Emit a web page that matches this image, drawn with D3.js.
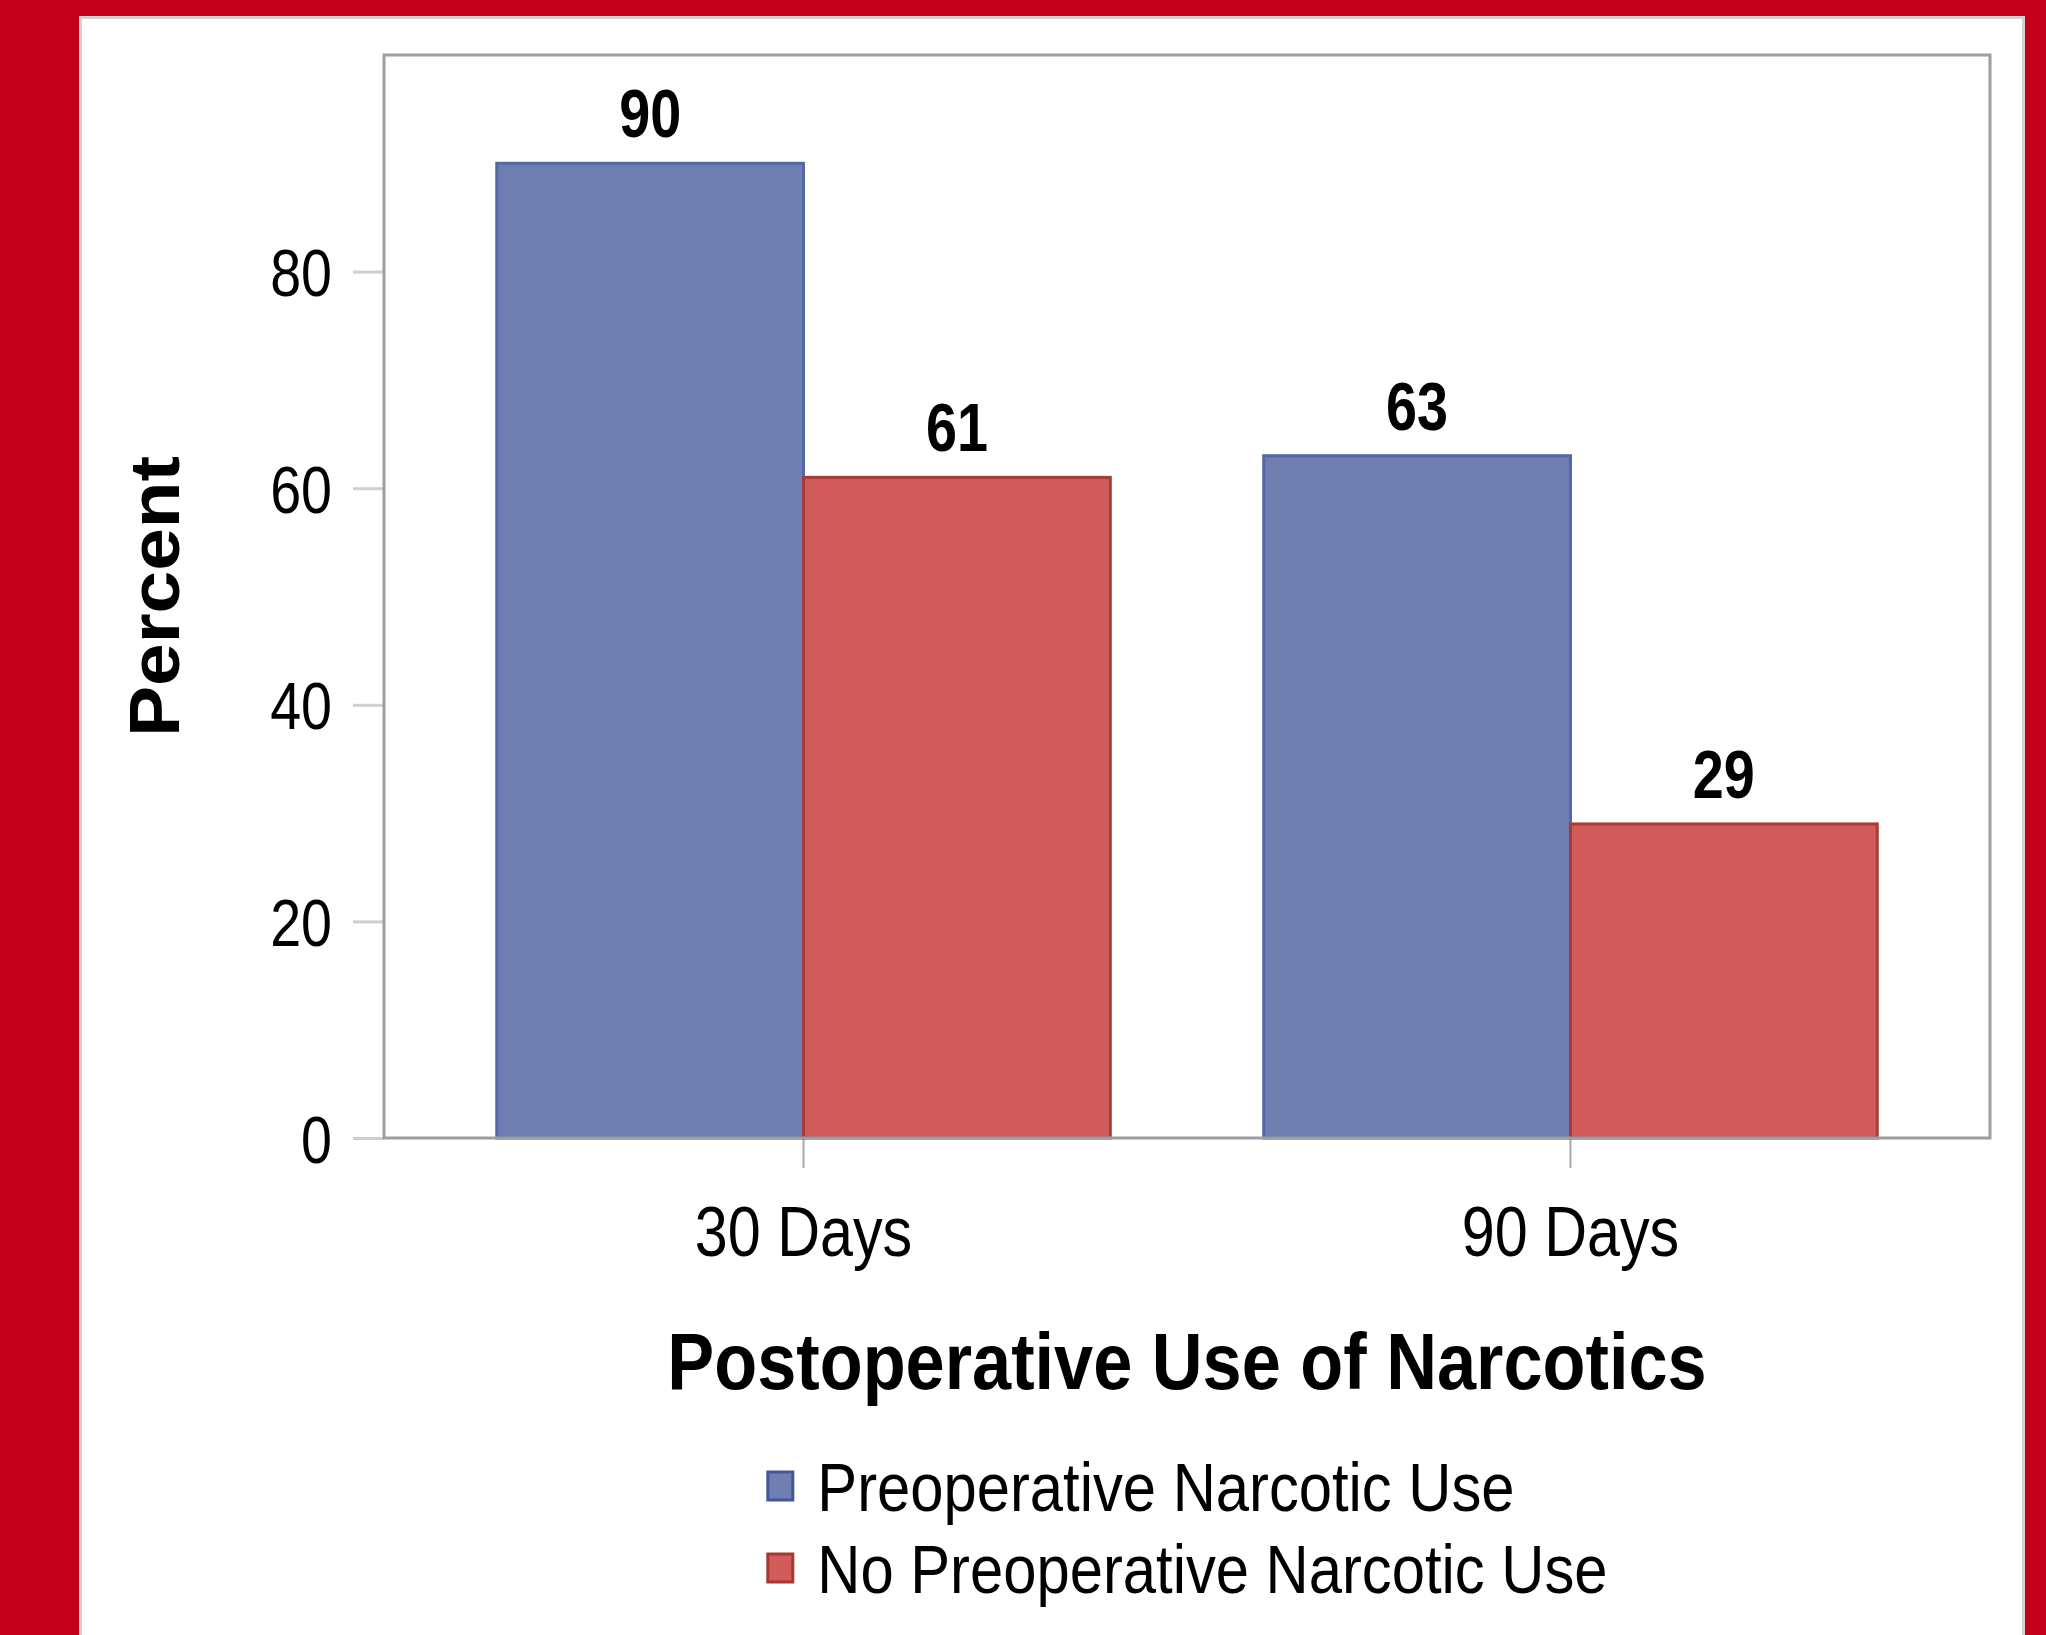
<!DOCTYPE html>
<html>
<head>
<meta charset="utf-8">
<script src="https://cdn.jsdelivr.net/npm/d3@7"></script>
<style>
  html, body { margin: 0; padding: 0; background: #ffffff; }
  svg { display: block; }
  text { font-family: "Liberation Sans", Arial, Helvetica, sans-serif; fill: #000; }
</style>
</head>
<body>
<svg id="chart" width="2046" height="1635"></svg>
<script>
// Chart data
const categories = ["30 Days", "90 Days"];
const groups = ["Preoperative Narcotic Use", "No Preoperative Narcotic Use"];
const preopValues = [90, 63];
const noPreopValues = [61, 29];
const yTicks = [0, 20, 40, 60, 80];
const yMax = 100;

const xTitle = "Postoperative Use of Narcotics";
const yTitle = "Percent";

const fills = ["#6f7fb1", "#d15b5b"];
const strokes = ["#5467a6", "#a83c35"];
const legendStrokes = ["#44579a", "#a3392f"];

const W = 2046, H = 1635;
const plot = { left: 384, top: 55, right: 1990, bottom: 1138 };

const svg = d3.select("#chart");

// Poster-style frame: red edge, thin grey rule, white panel
svg.append("rect").attr("x", 0).attr("y", 0).attr("width", W).attr("height", H).attr("fill", "#c2001b");
svg.append("rect").attr("x", 79).attr("y", 16).attr("width", 2025 - 79).attr("height", H - 16).attr("fill", "#d2d2d2");
svg.append("rect").attr("x", 82).attr("y", 19).attr("width", 2022 - 82).attr("height", H - 19).attr("fill", "#ffffff");

// Scales
const x0 = d3.scaleBand()
  .domain(categories)
  .range([plot.left, plot.right])
  .paddingInner(0.2)
  .paddingOuter(0.147);

const x1 = d3.scaleBand()
  .domain(groups)
  .range([0, x0.bandwidth()])
  .padding(0);

const y = d3.scaleLinear()
  .domain([0, yMax])
  .range([plot.bottom, plot.top]);

// Rows of the table drawn as bars
const rows = categories.map((c, i) => ({
  category: c,
  values: [
    { group: groups[0], value: preopValues[i], gi: 0 },
    { group: groups[1], value: noPreopValues[i], gi: 1 }
  ]
}));

// Y axis
const yAxis = d3.axisLeft(y).tickValues(yTicks).tickSize(31).tickPadding(21);
const gy = svg.append("g").attr("transform", `translate(${plot.left},0)`).call(yAxis);
gy.select(".domain").remove();
gy.selectAll(".tick line").attr("stroke", "#cdd0d2").attr("stroke-width", 3);
gy.selectAll(".tick text")
  .attr("x", null).attr("dy", null)
  .attr("text-anchor", "end")
  .attr("font-size", 67)
  .attr("fill", "#000")
  .attr("transform", "translate(-52,24) scale(0.83,1)");

// X axis
const xAxis = d3.axisBottom(x0).tickSize(30).tickPadding(37);
const gx = svg.append("g").attr("transform", `translate(0,${plot.bottom})`).call(xAxis);
gx.select(".domain").remove();
gx.selectAll(".tick line").attr("stroke", "#a6aaae").attr("stroke-width", 2);
gx.selectAll(".tick text")
  .attr("y", null).attr("dy", null)
  .attr("text-anchor", "middle")
  .attr("font-size", 71)
  .attr("fill", "#000")
  .attr("transform", "translate(0,118) scale(0.835,1)");

// Bars
const groupG = svg.append("g").selectAll("g")
  .data(rows)
  .join("g")
  .attr("transform", d => `translate(${x0(d.category)},0)`);

groupG.selectAll("rect")
  .data(d => d.values)
  .join("rect")
  .attr("x", d => x1(d.group))
  .attr("y", d => y(d.value))
  .attr("width", x1.bandwidth())
  .attr("height", d => y(0) - y(d.value))
  .attr("fill", d => fills[d.gi])
  .attr("stroke", d => strokes[d.gi])
  .attr("stroke-width", 3);

// Value labels above bars
groupG.selectAll("text.value")
  .data(d => d.values)
  .join("text")
  .attr("class", "value")
  .attr("text-anchor", "middle")
  .attr("font-size", 68)
  .attr("font-weight", "bold")
  .attr("transform", d => `translate(${x1(d.group) + x1.bandwidth() / 2},${y(d.value) - 26}) scale(0.82,1)`)
  .text(d => d.value);

// Plot frame
svg.append("rect")
  .attr("x", plot.left).attr("y", plot.top)
  .attr("width", plot.right - plot.left).attr("height", plot.bottom - plot.top)
  .attr("fill", "none").attr("stroke", "#9a9fa4").attr("stroke-width", 3);

// Axis titles
const cx = (plot.left + plot.right) / 2;
svg.append("text")
  .attr("text-anchor", "middle")
  .attr("font-size", 80)
  .attr("font-weight", "bold")
  .attr("transform", `translate(${cx},1389) scale(0.879,1)`)
  .text(xTitle);

svg.append("text")
  .attr("text-anchor", "middle")
  .attr("font-size", 71)
  .attr("font-weight", "bold")
  .attr("transform", `translate(179,${(plot.top + plot.bottom) / 2}) rotate(-90) scale(1.08,1)`)
  .text(yTitle);

// Legend
const legendSx = 0.866;
const legendFont = 69;
const swW = 25, swH = 28, swGap = 23;
const legend = svg.append("g");
const items = legend.selectAll("g")
  .data(groups)
  .join("g");

items.append("text")
  .attr("font-size", legendFont)
  .attr("text-anchor", "start")
  .text(d => d);

let maxLen = 0;
items.select("text").each(function () { maxLen = Math.max(maxLen, this.getComputedTextLength()); });
const legendWidth = swW + 3 + swGap + maxLen * legendSx;
const lx = cx - legendWidth / 2;
const rowBase = [1511, 1593];

items.attr("transform", (d, i) => `translate(${lx},${rowBase[i]})`);
items.select("text").attr("transform", `translate(${swW + 3 + swGap},0) scale(${legendSx},1)`);
items.insert("rect", "text")
  .attr("x", 1.5)
  .attr("y", -25 - swH / 2 - 1.5 + 1.5)
  .attr("width", swW)
  .attr("height", swH)
  .attr("fill", (d, i) => fills[i])
  .attr("stroke", (d, i) => legendStrokes[i])
  .attr("stroke-width", 3);
</script>
</body>
</html>
